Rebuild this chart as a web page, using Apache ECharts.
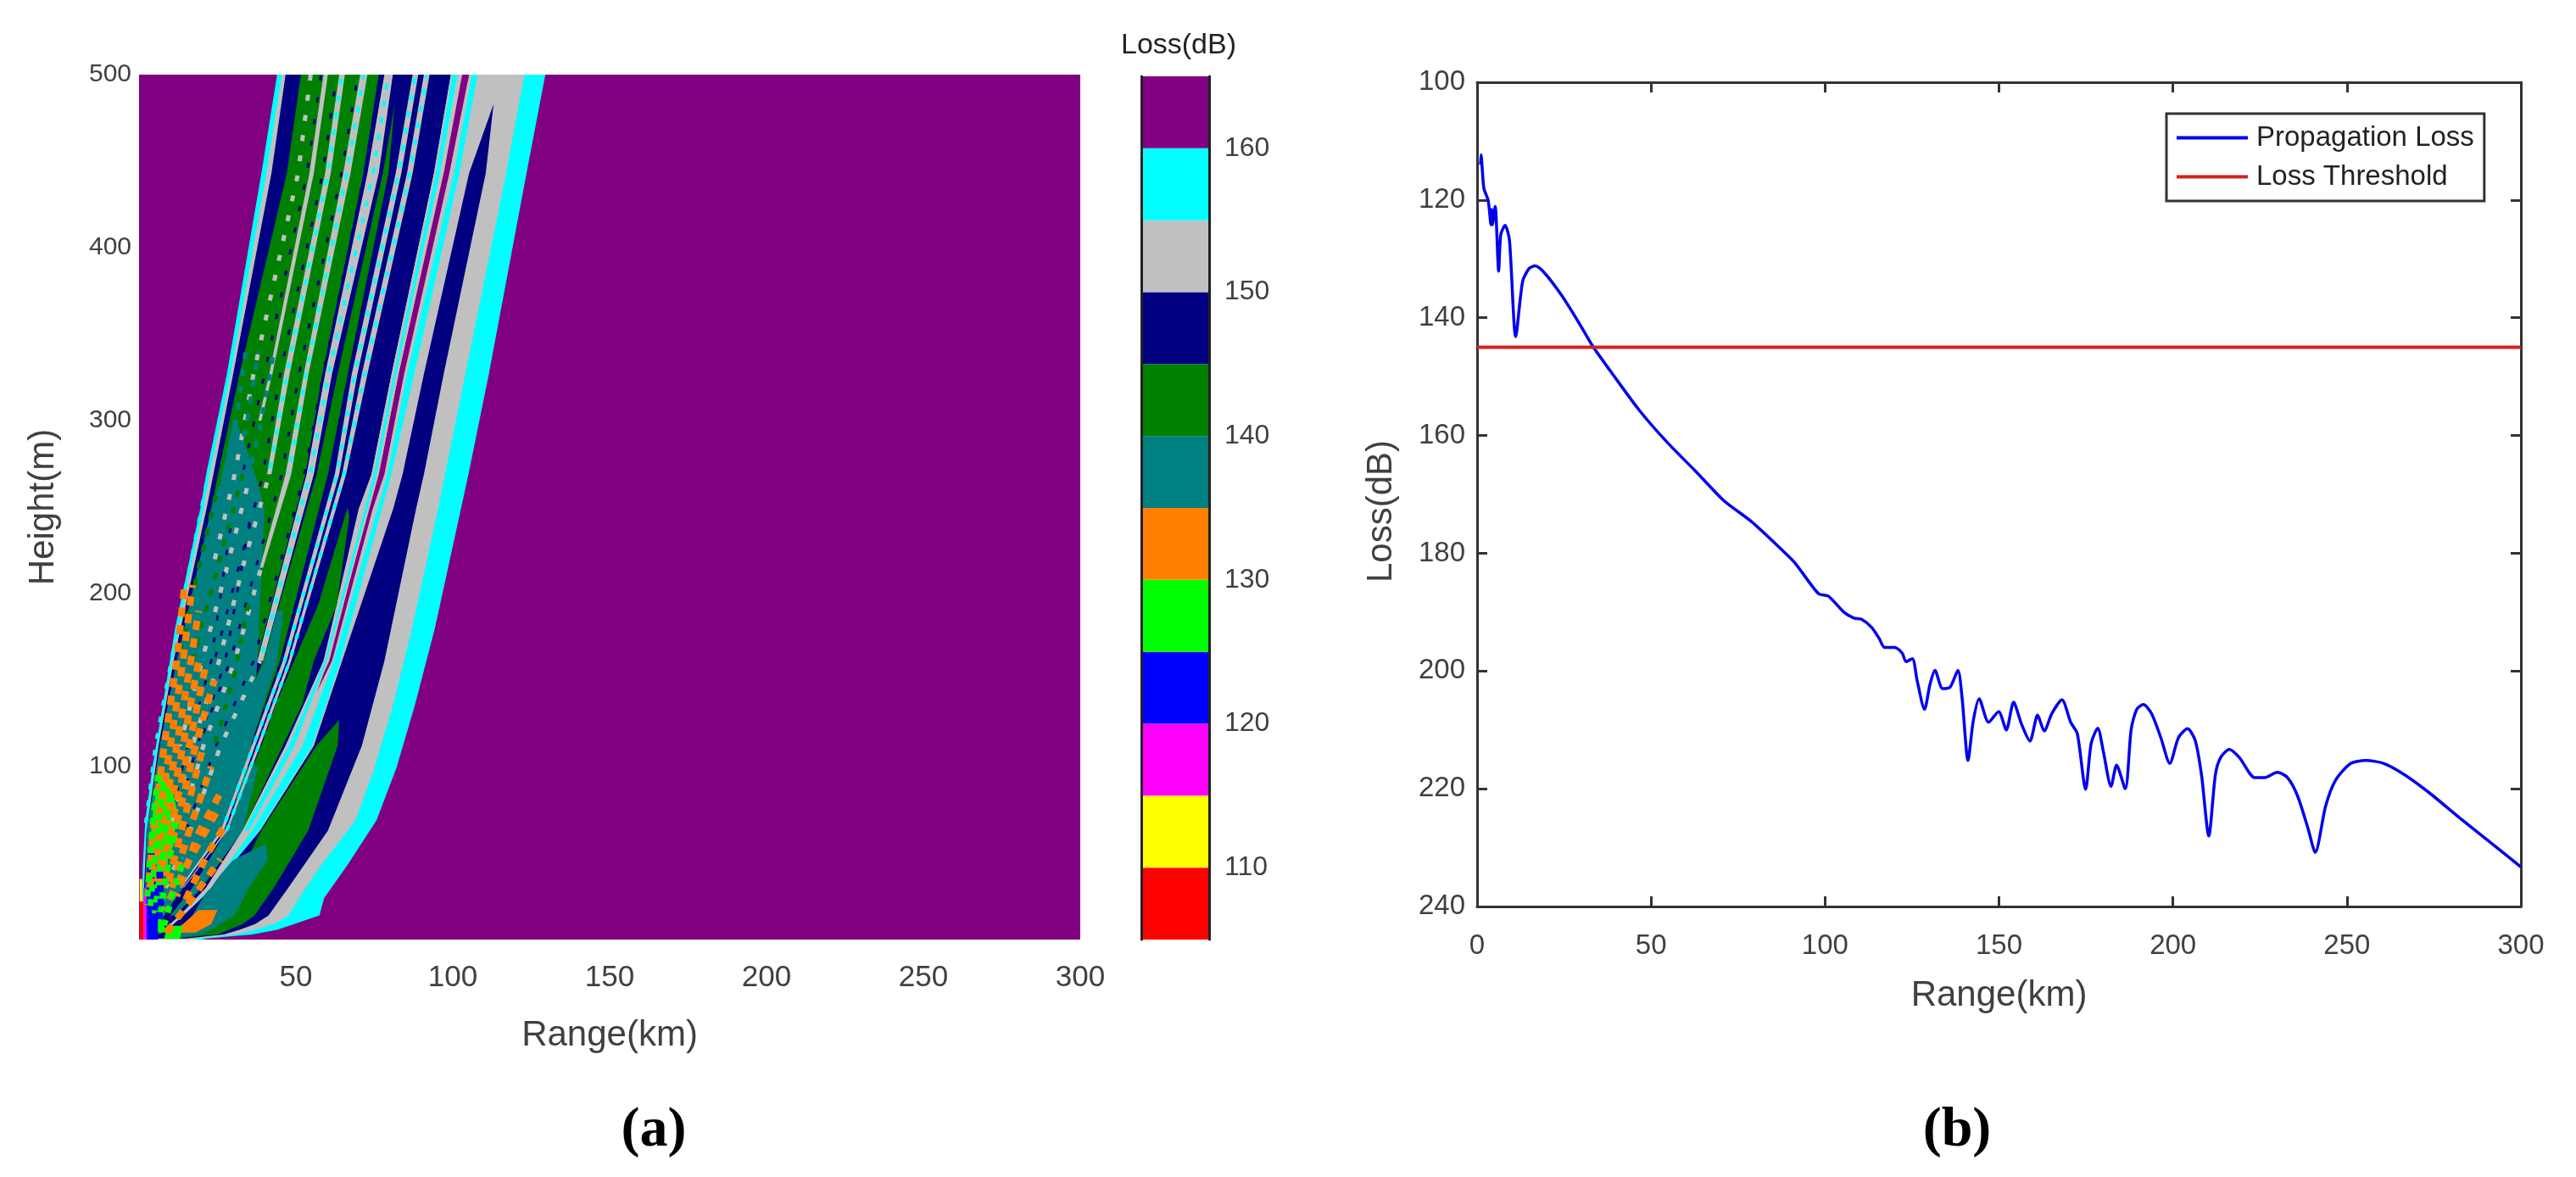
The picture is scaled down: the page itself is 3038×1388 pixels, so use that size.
<!DOCTYPE html>
<html>
<head>
<meta charset="utf-8">
<style>
	html, body { margin: 0; background: #fff; }
	#chart { width: 3038px; height: 1388px; }
</style>
<script src="https://cdn.jsdelivr.net/npm/echarts@6/dist/echarts.min.js"></script>
</head>
<body>
<div id="chart"></div>
<script>
// colour scale of panel (a): lower bound of every 5 dB class
const levelStarts = [105, 110, 115, 120, 125, 130, 135, 140, 145, 150, 155, 160];
const levelColors = ['#ff0000', '#ffff00', '#ff00ff', '#0000ff', '#00ff00', '#ff8000', '#008080', '#008000', '#000080', '#c0c0c0', '#00ffff', '#800080'];
const barTicks = [110, 120, 130, 140, 150, 160];

// contour bands of panel (a), painted in order. one row = [height m, left km, right km]
const contourLevels = [
	160, 155, 150, 145, 160, 155, 145,
	140, 135, 130, 125,
	140, 140, 140, 135, 135, 135,
	150, 150, 150, 150, 150, 150, 150,
	155,
	125, 125, 120, 115, 105, 110
];
const contourRows = [
	[[500, 0, 300], [0, 0, 300]],
	[[500, 44, 129.5], [443, 39, 123.5], [327, 28, 111.5], [269, 21.4, 105], [249, 19.5, 102.6], [180, 11.5, 94.3], [136, 7.6, 88], [99, 4.2, 82], [69, 2, 75.7], [43, 1.2, 66.4], [24, 1, 59], [14, 1, 57.5], [9, 1, 49.4], [5.6, 1, 44], [3, 1, 36], [0.6, 1, 21.4], [0, 1, 20]],
	[[500, 45.5, 122.8], [443, 40.6, 117], [327, 29.2, 104], [269, 22.4, 97.5], [249, 20.5, 95.3], [180, 12.3, 87], [136, 8.2, 81], [99, 4.8, 75], [69, 2.6, 69], [43, 1.6, 58], [24, 1.4, 51], [14, 1.4, 47.6], [9, 1.4, 43], [5.6, 1.4, 37], [3, 1.4, 30.5], [0.6, 1.4, 19], [0, 1.4, 17]],
	[[500, 46.7, 99.4], [443, 42.2, 94], [327, 30, 80.5], [269, 23.7, 74.1], [249, 21.5, 70], [161, 11, 58.8], [112, 6.2, 46.7], [63, 2.4, 33], [30, 1.6, 21.4], [14, 1.6, 13], [3, 1.6, 6], [0, 1.6, 3]],
	[[500, 103, 105.2], [443, 97.1, 98.9], [327, 82.7, 84.5], [269, 76.4, 78.2], [249, 73, 74.5], [161, 60.6, 61.5], [135, 54, 54.5], [120, 50.7, 50.9]],
	[[500, 106.1, 107.9], [443, 100.3, 102.1], [327, 85.4, 87.7], [269, 79.1, 80.4], [161, 62, 64.2], [112, 52.1, 55.2], [63, 36, 38.3], [30, 23, 23.5], [14, 14, 14.2]],
	[[483, 113, 113], [443, 105.2, 110.5], [327, 90.8, 97.1], [269, 84, 90.8], [249, 81, 88.3], [161, 64.7, 78.2], [112, 55.7, 71], [63, 38.6, 60.2], [30, 23.5, 47.6], [14, 14.2, 41.3], [9, 11, 37], [5.6, 9, 32], [3, 6, 27], [0.6, 3, 15]],
	[[127, 63.8, 63.8], [112, 56.5, 63.3], [63, 39, 53.9], [30, 30, 43], [14, 26, 36.8], [9, 22, 33], [3, 16, 25], [0.6, 8, 11]],
	[[55, 40, 40.5], [46, 30, 41], [30, 22.3, 35], [14, 17, 30.5], [9, 15, 26], [3, 12, 20], [0.6, 7, 9]],
	[[17, 19, 25], [9, 14, 23], [4, 10, 18]],
	[[8, 9, 14], [0.5, 8, 13]],
	[[500, 51.6, 76.4], [443, 47.1, 71.5], [327, 32, 58.4], [269, 25.2, 53], [161, 13, 37.5], [112, 7.5, 30], [63, 3, 22], [30, 2, 11], [3, 2, 3]],
	[[483, 81.5, 81.5], [443, 77.7, 79.5], [327, 63.3, 66.5], [269, 56.6, 60.2], [161, 39.5, 44.9], [112, 28, 35.5], [63, 17, 25.5], [30, 10, 14], [10, 5, 6]],
	[[250, 66.5, 66.5], [244, 65.5, 67], [193, 57, 63], [161, 49.4, 55.7], [136, 43.6, 52], [112, 39, 45.8], [63, 28, 33], [30, 17, 20], [14, 10, 11.5]],
	[[300, 30, 31], [269, 26.5, 37], [249, 23, 40], [161, 12, 37.7], [112, 6.6, 35.9], [63, 2.5, 26], [30, 2, 14], [14, 2, 8], [3, 2, 4.3]],
	[[190, 44, 46], [161, 40, 44], [112, 28, 35.5], [63, 17, 25.5], [30, 10, 14], [10, 5, 6]],
	[[100, 34, 38], [63, 28, 33], [30, 17, 20], [14, 10, 11.5]],
	[[500, 78.2, 80.9], [443, 72.8, 76.4], [327, 59.3, 61.5], [269, 53.4, 55.7], [161, 37.7, 39.5]],
	[[500, 70.5, 72.8], [443, 65.1, 67.4], [327, 52.5, 54], [269, 46.7, 48.5], [215, 38.5, 39.5]],
	[[500, 63.8, 65.6], [443, 59.3, 61.1], [327, 46.2, 48], [269, 40.8, 42.2]],
	[[500, 58.8, 60.2], [443, 54.3, 55.7], [327, 41.5, 42.5], [300, 38, 39]],
	[[500, 87.2, 89], [443, 81.8, 83.6], [327, 67.8, 69.6], [269, 62.4, 63.8], [161, 45.8, 47], [112, 35.9, 37], [63, 26, 27], [30, 13, 13.5]],
	[[500, 90.8, 92.6], [443, 85.4, 87.2], [327, 71, 72.8], [269, 64.7, 66], [161, 47.6, 48.5], [112, 37.6, 38.6], [63, 27.6, 28.2], [30, 14, 14.3]],
	[[500, 99.4, 102.5], [443, 94, 96.7], [327, 80.5, 82.7], [269, 74.1, 76.4], [161, 58.8, 60.2], [112, 46.7, 50.7], [63, 33, 35.5], [30, 21.4, 23], [14, 13, 14]],
	[[500, 99.9, 101.5], [443, 94.6, 95.9], [327, 81.2, 82], [269, 74.8, 75.7], [161, 59.2, 59.8], [112, 47.8, 49.5], [63, 33.5, 35]],
	[[96, 6.5, 9.5], [75, 4.5, 12], [55, 3.5, 11], [40, 3, 8]],
	[[17, 6, 7], [10, 5, 7.5], [4, 6, 9]],
	[[50, 2.6, 5], [30, 2.6, 6.5], [10, 2.2, 6], [0, 2.2, 6]],
	[[30, 1.4, 2.4], [0, 1.4, 2.4]],
	[[22, 0.2, 1.4], [0, 0.2, 1.4]],
	[[35, 0.2, 1], [22, 0.2, 1]]
];

// broken streaks across the fan. one point = [range km, height m]
const streakLevels = [
	150, 150, 150, 150, 150,
	155, 155, 155, 155, 155, 155,
	145, 145, 145, 145, 145, 145,
	135, 135, 135,
	140, 140, 140,
	130, 130, 130, 130, 130, 130, 130, 130, 130, 130, 130, 130,
	125, 125, 125, 125, 125,
	120
];
const streakPaths = [
	[[54.7, 500], [50.7, 443], [36.5, 327], [30.5, 269], [23.5, 215]],
	[[35.5, 269], [28, 215], [20, 161], [13, 112]],
	[[41.5, 269], [33, 215], [25.5, 161], [17, 112], [10, 63]],
	[[38.9, 215], [30.5, 161], [20.5, 112], [13, 63]],
	[[38.6, 161], [26, 112], [16.3, 63], [8.5, 30]],
	[[64.7, 500], [60.2, 443], [47.1, 327], [41.5, 269]],
	[[71.6, 500], [66.2, 443], [53.2, 327], [47.6, 269]],
	[[79.5, 500], [74.6, 443], [60.4, 327], [54.5, 269], [38.6, 161]],
	[[88, 500], [82.7, 443], [68.7, 327], [63.1, 269], [46.4, 161], [36.4, 112], [26.5, 63]],
	[[91.7, 500], [86.3, 443], [71.9, 327], [65.3, 269], [48, 161], [38.1, 112], [27.9, 63]],
	[[45, 500], [40, 443], [28.6, 327], [22, 269], [10.2, 161], [5.2, 112], [1.8, 63]],
	[[58, 500], [53.5, 443], [40, 327], [33, 269]],
	[[63, 500], [58.5, 443], [45, 327], [39.5, 269], [24, 161]],
	[[69.8, 500], [64.5, 443], [51, 327], [45.5, 269], [29, 161], [19, 112]],
	[[77.3, 500], [71.8, 443], [58.7, 327], [52.7, 269], [36.5, 161], [24.5, 112], [15, 63]],
	[[30, 250], [23, 161], [15.5, 112], [9, 63]],
	[[36, 250], [27.5, 161], [18.5, 112], [11, 63]],
	[[34, 340], [31, 300], [27.5, 269]],
	[[38, 340], [34.5, 300], [31, 269]],
	[[43, 340], [39, 300], [35, 269]],
	[[33, 269], [25, 215], [17, 161]],
	[[35.5, 200], [30, 150], [24, 112]],
	[[26, 269], [19, 215], [12.5, 161]],
	[[3, 30], [4.5, 63], [8, 112], [12, 161], [14.5, 205]],
	[[3.5, 30], [5.5, 63], [10, 112], [14, 161], [17, 205]],
	[[4.5, 30], [7, 63], [12, 112], [16.5, 161], [19, 190]],
	[[5.5, 30], [8.5, 63], [14, 112], [19, 161]],
	[[6.5, 30], [10, 63], [16, 112], [21.5, 161]],
	[[7.5, 30], [11.5, 63], [18, 112], [24, 150]],
	[[9, 30], [13.5, 63], [20.5, 112]],
	[[10.5, 30], [16, 63], [23, 100]],
	[[12, 25], [18.5, 60], [26, 85]],
	[[14, 20], [22, 50], [27, 65]],
	[[8.8, 3.9], [17, 24], [25.9, 46.4]],
	[[7.9, 17], [16, 46], [25.9, 77.5]],
	[[2.5, 20], [4, 60], [6, 95]],
	[[3.5, 18], [5.5, 55], [8, 92]],
	[[5, 15], [7.5, 50], [10, 85]],
	[[6.5, 12], [9, 40], [12, 70]],
	[[8, 8], [11, 28], [14, 45]],
	[[6, 8], [7, 22], [6.5, 42]]
];
const streakStyles = {
	155: {width: 4, dash: [7, 13]},
	150: {width: 5, dash: [7, 17]},
	145: {width: 3, dash: [6, 20]},
	140: {width: 5, dash: [8, 12]},
	135: {width: 5, dash: [8, 12]},
	130: {width: 8, dash: [11, 10]},
	125: {width: 7, dash: [8, 9]},
	120: {width: 8, dash: [8, 8]}
};

// panel (b)
const lossRange = [1, 1.13, 1.95, 3.2, 4, 4.2, 4.4, 5.2, 6.2, 6.8, 8.05, 9.3, 11.1, 13.1, 15, 16.6, 19.4, 24.3, 29.2, 33.2, 38.5, 46.6, 54.7, 62.7, 70.8, 78.8, 87.2, 91.3, 98.1, 101, 105.4, 108.3, 110.5, 113.4, 115.6, 117.1, 120, 122.2, 123.3, 125.1, 126.5, 128.6, 130.2, 131.6, 133.8, 136, 138.2, 139.4, 141.1, 142.6, 144.3, 147, 149.9, 152.1, 154.2, 156.4, 158.9, 161.1, 163, 165.2, 168.1, 170.6, 172.5, 174.9, 176.5, 178.4, 180, 182.2, 183.8, 186.3, 188, 189.6, 191.5, 193.9, 196.5, 199.1, 201.6, 204.2, 206.4, 208.2, 210.3, 212.2, 213.7, 216.2, 219.1, 223.5, 226.4, 230, 232.9, 235.8, 238.8, 240.9, 243.9, 246.8, 251.1, 255.5, 260.6, 266.5, 273.7, 282.5, 291.2, 300];
const lossValue = [114, 112.3, 118, 120.1, 124.2, 121.6, 124.2, 121.1, 132.1, 125.9, 124.3, 126.8, 143.2, 133.8, 131.6, 131.2, 132.4, 136.2, 140.8, 144.8, 149.2, 155.7, 161.2, 166, 171, 174.6, 179.2, 181.6, 186.85, 187.3, 190, 191, 191.2, 192.6, 194.5, 196, 196, 197, 198.4, 197.9, 201.7, 206.5, 202.2, 199.9, 203, 202.7, 199.9, 204.6, 215.2, 208.5, 204.7, 208.7, 206.9, 210, 205.3, 208.9, 211.9, 207.5, 210.2, 207.2, 204.9, 208.7, 210.6, 220.1, 212.3, 209.7, 213.7, 219.6, 216, 220, 209.9, 206.5, 205.7, 207.3, 211.3, 215.7, 211.3, 209.8, 211.8, 217.6, 228, 217.6, 214.7, 213.3, 214.7, 218.1, 218.1, 217.2, 218.1, 221.2, 226.7, 230.8, 222.9, 218.5, 215.7, 215.2, 215.7, 217.6, 220.7, 225, 229.1, 233.3];
const thresholdRange = [0, 300];
const thresholdValue = [145, 145];

const tickColor = '#404040';
const frameColor = '#333';
const sansFont = '"Liberation Sans", Arial, sans-serif';

function levelColor(level) {
	return levelColors[levelStarts.indexOf(level)];
}

function bandPoints(rows, api) {
	let left = rows.map(row => api.coord([row[1], row[0]]));
	let right = rows.map(row => api.coord([row[2], row[0]]));
	return left.concat(right.reverse());
}

let myECharts = echarts.init(document.getElementById('chart'), null, {renderer: 'canvas', width: 3038, height: 1388});

let axisName = {fontFamily: sansFont, fontSize: 42, color: tickColor};
let frameLine = {show: true, onZero: false, lineStyle: {color: frameColor, width: 3}};
let barLine = {show: true, onZero: false, lineStyle: {color: '#222', width: 3}};
let frameTick = {inside: true, length: 12, lineStyle: {color: frameColor, width: 3}};
let captionRich = {
	p: {fontFamily: '"Liberation Serif", serif', fontSize: 66, color: '#000'},
	b: {fontFamily: '"Liberation Serif", serif', fontSize: 66, fontWeight: 'bold', color: '#000'}
};

myECharts.setOption({
	animation: false,
	backgroundColor: '#fff',
	title: [
		{text: '{p|(}{b|a}{p|)}', left: 766, top: 1296, textAlign: 'center', textStyle: {rich: captionRich}},
		{text: '{p|(}{b|b}{p|)}', left: 2303, top: 1296, textAlign: 'center', textStyle: {rich: captionRich}},
		{text: 'Loss(dB)', left: 1385, top: 32, textAlign: 'center', textStyle: {fontFamily: sansFont, fontSize: 34, fontWeight: 'normal', color: '#222'}}
	],
	legend: {
		data: ['Propagation Loss', 'Loss Threshold'],
		orient: 'vertical',
		left: 2555,
		top: 134,
		padding: [12, 12, 12, 12],
		icon: 'rect',
		itemWidth: 84,
		itemHeight: 4,
		itemGap: 13,
		backgroundColor: '#fff',
		borderColor: frameColor,
		borderWidth: 3,
		textStyle: {fontFamily: sansFont, fontSize: 33, color: '#222', padding: [0, 0, 0, 5]}
	},
	grid: [
		{left: 164, top: 88, width: 1110, height: 1020},
		{left: 1346, top: 90, width: 80, height: 1018},
		{left: 1742, top: 97, width: 1231, height: 972}
	],
	xAxis: [
		{
			gridIndex: 0, type: 'value', min: 0, max: 300, interval: 50,
			name: 'Range(km)', nameLocation: 'middle', nameGap: 92, nameTextStyle: axisName,
			splitLine: {show: false}, axisLine: {show: false}, axisTick: {show: false},
			axisLabel: {show: true, margin: 28, fontFamily: sansFont, fontSize: 35, color: tickColor, showMinLabel: false}
		},
		{gridIndex: 1, type: 'value', min: 0, max: 1, show: false},
		{
			gridIndex: 2, type: 'value', min: 0, max: 300, interval: 50, z: 3,
			name: 'Range(km)', nameLocation: 'middle', nameGap: 84, nameTextStyle: axisName,
			splitLine: {show: false}, axisLine: frameLine, axisTick: frameTick,
			axisLabel: {margin: 30, fontFamily: sansFont, fontSize: 33, color: tickColor}
		},
		{
			gridIndex: 2, type: 'value', position: 'top', min: 0, max: 300, interval: 50, z: 3,
			splitLine: {show: false}, axisLine: frameLine, axisLabel: {show: false}, axisTick: frameTick
		}
	],
	yAxis: [
		{
			gridIndex: 0, type: 'value', min: 0, max: 500, interval: 100,
			name: 'Height(m)', nameLocation: 'middle', nameGap: 92, nameTextStyle: axisName,
			splitLine: {show: false}, axisLine: {show: false}, axisTick: {show: false},
			axisLabel: {show: true, margin: 9, fontFamily: sansFont, fontSize: 30, color: tickColor, showMinLabel: false}
		},
		{
			gridIndex: 1, type: 'value', position: 'right', min: 105, max: 165, z: 3,
			splitLine: {show: false}, axisLine: barLine, axisTick: {show: false},
			axisLabel: {customValues: barTicks, margin: 18, fontFamily: sansFont, fontSize: 32, color: tickColor}
		},
		{
			gridIndex: 1, type: 'value', position: 'left', min: 105, max: 165, z: 3,
			splitLine: {show: false}, axisLine: barLine, axisTick: {show: false}, axisLabel: {show: false}
		},
		{
			gridIndex: 2, type: 'value', inverse: true, min: 100, max: 240, interval: 20, z: 3,
			name: 'Loss(dB)', nameLocation: 'middle', nameGap: 92,
			nameTextStyle: Object.assign({padding: [0, 40, 0, 0]}, axisName),
			splitLine: {show: false}, axisLine: frameLine, axisTick: frameTick,
			axisLabel: {margin: 14, fontFamily: sansFont, fontSize: 33, color: tickColor}
		},
		{
			gridIndex: 2, type: 'value', position: 'right', inverse: true, min: 100, max: 240, interval: 20, z: 3,
			splitLine: {show: false}, axisLine: frameLine, axisLabel: {show: false}, axisTick: frameTick
		}
	],
	series: [
		{
			// filled contour bands
			type: 'custom',
			xAxisIndex: 0,
			yAxisIndex: 0,
			clip: true,
			silent: true,
			z: 1,
			data: contourLevels.map((level, i) => [i, level]),
			renderItem: (params, api) => ({
				type: 'polygon',
				shape: {points: bandPoints(contourRows[params.dataIndex], api)},
				style: {fill: levelColor(contourLevels[params.dataIndex])}
			})
		},
		{
			// speckled streaks
			type: 'custom',
			xAxisIndex: 0,
			yAxisIndex: 0,
			clip: true,
			silent: true,
			z: 2,
			data: streakLevels.map((level, i) => [i, level]),
			renderItem: (params, api) => {
				let level = streakLevels[params.dataIndex];
				return {
					type: 'polyline',
					shape: {points: streakPaths[params.dataIndex].map(p => api.coord(p))},
					style: {
						fill: null,
						stroke: levelColor(level),
						lineWidth: streakStyles[level].width,
						lineDash: streakStyles[level].dash,
						lineDashOffset: params.dataIndex * 7
					}
				};
			}
		},
		{
			// colour bar
			type: 'custom',
			xAxisIndex: 1,
			yAxisIndex: 1,
			silent: true,
			data: levelStarts.map((level, i) => [i, level]),
			renderItem: (params, api) => {
				let level = levelStarts[params.dataIndex];
				let from = api.coord([0, level + 5]);
				let to = api.coord([1, level]);
				return {
					type: 'rect',
					shape: {x: from[0], y: from[1], width: to[0] - from[0], height: to[1] - from[1]},
					style: {fill: levelColors[params.dataIndex]}
				};
			}
		},
		{
			name: 'Propagation Loss',
			type: 'line',
			xAxisIndex: 2,
			yAxisIndex: 3,
			symbol: 'none',
			smooth: 0.25,
			lineStyle: {color: '#0000ee', width: 3.5},
			itemStyle: {color: '#0000ee'},
			data: lossRange.map((r, i) => [r, lossValue[i]])
		},
		{
			name: 'Loss Threshold',
			type: 'line',
			xAxisIndex: 2,
			yAxisIndex: 3,
			symbol: 'none',
			lineStyle: {color: '#d42020', width: 4},
			itemStyle: {color: '#d42020'},
			data: thresholdRange.map((r, i) => [r, thresholdValue[i]])
		}
	]
});
</script>
</body>
</html>
